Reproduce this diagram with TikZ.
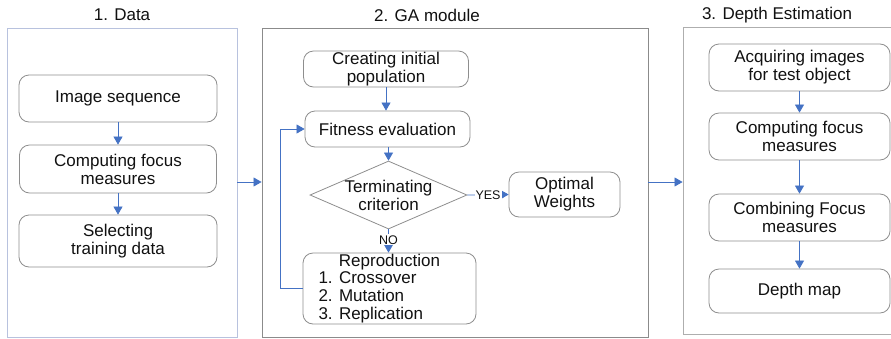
\documentclass[tikz,border=0pt]{standalone}
\usepackage{fontspec}
\setmainfont{Liberation Sans}
\usetikzlibrary{arrows.meta,shapes.geometric}
\definecolor{arrowblue}{HTML}{4472C4}
\definecolor{panelblue}{HTML}{B8C2DE}
\definecolor{panelgrey}{HTML}{9A9A9A}
\definecolor{boxgrey}{HTML}{8E8E8E}
\definecolor{txt}{HTML}{111111}
\tikzset{
  panel/.style={draw=panelgrey, line width=0.9pt, inner sep=0pt},
  box/.style={draw=boxgrey, line width=0.8pt, rounded corners=10pt, align=center, inner sep=0pt,
    font=\fontsize{17}{18}\selectfont, text=txt},
  title/.style={font=\fontsize{17}{18}\selectfont, text=txt},
  conn/.style={draw=arrowblue, line width=0.7pt, -{Triangle[width=9pt,length=8pt]}},
  small/.style={font=\fontsize{12.5}{13}\selectfont, text=txt, fill=white, inner sep=1pt},
}
\begin{document}
\begin{tikzpicture}[x=1pt,y=-1pt]
\clip (0,0) rectangle (891,338);
\fill[white] (0,0) rectangle (891,338);
% panels
\node[panel, draw=panelblue, minimum width=230, minimum height=309] (p1) at (122,182.5) {};
\node[panel, draw=panelgrey!90!black, minimum width=386, minimum height=309] (p2) at (455,182.5) {};
\node[panel, draw=panelgrey!80, minimum width=214, minimum height=307] (p3) at (790,181) {};
% titles
\node[title] (t1) at (122,15) {1. Data};
\node[title] (t2) at (427,15) {2. GA module};
\node[title] (t3) at (777,15) {3. Depth Estimation};
% panel 1
\node[box, minimum width=198, minimum height=47] (img) at (118,98.5) {Image sequence};
\node[box, minimum width=197, minimum height=48] (cfm1) at (118,169) {Computing focus\\measures};
\node[box, minimum width=198, minimum height=52] (sel) at (118,241) {Selecting\\training data};
\draw[conn] (img.south) -- (cfm1.north);
\draw[conn] (cfm1.south) -- (sel.north);
% panel 2
\node[box, minimum width=165, minimum height=36] (crea) at (386,69) {Creating initial\\population};
\node[box, minimum width=165, minimum height=36] (fit) at (387.5,129) {Fitness evaluation};
\node[diamond, draw=boxgrey, line width=0.8pt, inner sep=0pt, minimum width=157, minimum height=68] (crit) at (388.5,195) {};
\node[title, align=center] (critt) at (crit.center) {Terminating\\criterion};
\node[box, minimum width=111, minimum height=45] (opt) at (564.5,194.5) {Optimal\\Weights};
\node[box, minimum width=173, minimum height=71] (rep) at (389.5,288.5) {};
\node[title] (rept) at (389.5,262) {Reproduction};
\node[title, align=left, anchor=west] (repl) at (315,297) {1. Crossover\\2. Mutation\\3. Replication};
\draw[conn] (crea.south -| 386,0) -- (fit.north -| 386,0);
\draw[conn] (fit.south -| crit.north) -- (crit.north);
\draw[conn] (crit.east) -- node[small, pos=0.5] (yes) {YES} (opt.west);
\draw[conn] (crit.south) -- node[small, pos=0.45] (no) {NO} (rep.north -| crit.south);
\draw[conn] (rep.west) -- ++(-22,0) |- (fit.west);
% panel 3
\node[box, minimum width=181, minimum height=47] (acq) at (799.5,67.5) {Acquiring images\\for test object};
\node[box, minimum width=181, minimum height=47] (cfm3) at (799.5,136.5) {Computing focus\\measures};
\node[box, minimum width=181, minimum height=47] (comb) at (799.5,217.5) {Combining Focus\\measures};
\node[box, minimum width=181, minimum height=44] (dep) at (799.5,291) {Depth map};
\draw[conn] (acq.south) -- (cfm3.north);
\draw[conn] (cfm3.south) -- (comb.north);
\draw[conn] (comb.south) -- (dep.north);
% between panels
\draw[conn] (p1.east |- 0,182) -- (p2.west |- 0,182);
\draw[conn] (p2.east |- 0,182) -- (p3.west |- 0,182);
\end{tikzpicture}
\end{document}
